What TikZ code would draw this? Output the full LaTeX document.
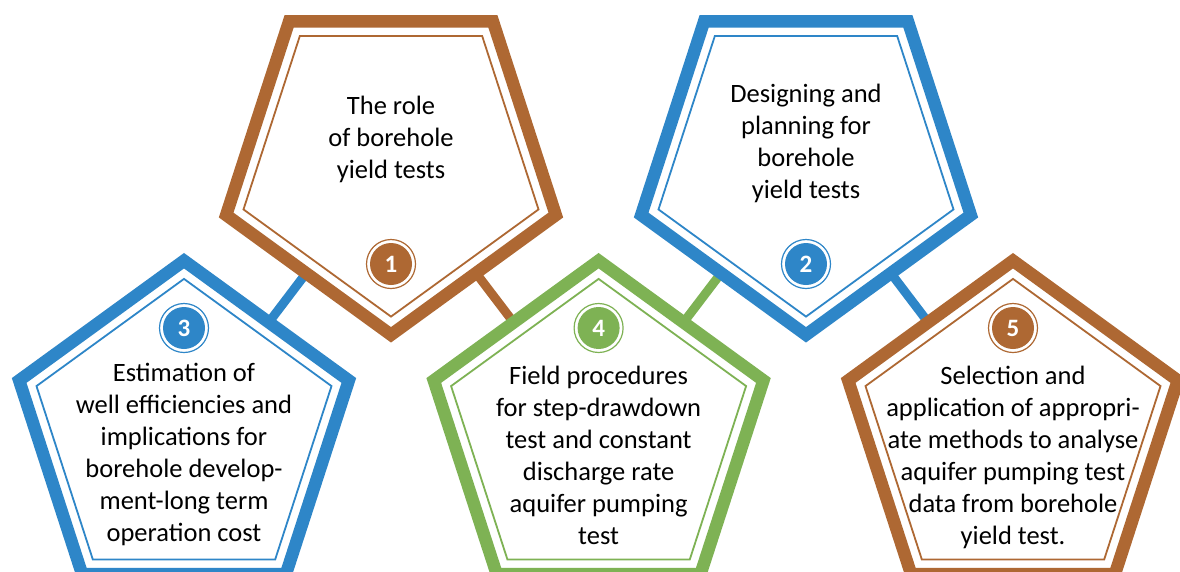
\documentclass[tikz,border=0pt]{standalone}
\usepackage{fontspec}
\setmainfont{Carlito}
\definecolor{brn}{HTML}{AE6833}
\definecolor{blu}{HTML}{2E86C8}
\definecolor{grn}{HTML}{7EB254}
\newcommand\mypent[3]{%
  \begin{scope}[shift={(#1)}]
    \filldraw[fill=white, draw=#3, line width=12.5] (#2:173.3) -- (#2+72:173.3) -- (#2+144:173.3) -- (#2+216:173.3) -- (#2+288:173.3) -- cycle;
    \draw[draw=#3, line width=1.8] (#2:155.1) -- (#2+72:155.1) -- (#2+144:155.1) -- (#2+216:155.1) -- (#2+288:155.1) -- cycle;
  \end{scope}}
\tikzset{
  bar/.style={line width=9},
  label/.style={align=center, font=\fontsize{26.5}{32}\selectfont, text=black, inner sep=0},
  badge/.style={circle, fill=#1, minimum size=42, inner sep=0, text=white, font=\fontsize{25}{28}\selectfont\bfseries},
  ring/.style={draw=#1, line width=1.2}
}
\begin{document}
\begin{tikzpicture}[x=1pt,y=-1pt]
\useasboundingbox (0,0) rectangle (1180,571);
\coordinate (c1) at (391,161.5);
\coordinate (c2) at (806,161.5);
\coordinate (c3) at (184,434);
\coordinate (c4) at (598.6,434);
\coordinate (c5) at (1013,434);
% connectors
\draw[bar, blu] (c3) -- (c1);
\draw[bar, brn] (c1) -- (c4);
\draw[bar, grn] (c4) -- (c2);
\draw[bar, blu] (c2) -- (c5);
% pentagons
\mypent{c1}{90}{brn}
\mypent{c2}{90}{blu}
\mypent{c3}{270}{blu}
\mypent{c4}{270}{grn}
\mypent{c5}{270}{brn}
% texts
\node[label] (t1) at (391,139) {The role\\of borehole\\yield tests};
\node[label] (t2) at (806,143) {Designing and\\planning for\\borehole\\yield tests};
\node[label] (t3) at (184,454) {Estimation of\\well efficiencies and\\implications for\\borehole develop-\\ment-long term\\operation cost};
\node[label] (t4) at (598.6,455) {Field procedures\\for step-drawdown\\test and constant\\discharge rate\\aquifer pumping\\test};
\node[label] (t5) at (1013,457) {Selection and\\application of appropri-\\ate methods to analyse\\aquifer pumping test\\data from borehole\\yield test.};
% badges
\node[badge=brn] (b1) at (391,264) {1};
\draw[ring=brn] (b1.center) circle (24.5);
\node[badge=blu] (b2) at (806,264) {2};
\draw[ring=blu] (b2.center) circle (24.5);
\node[badge=blu] (b3) at (184,328) {3};
\draw[ring=blu] (b3.center) circle (24.5);
\node[badge=grn] (b4) at (598.6,328) {4};
\draw[ring=grn] (b4.center) circle (24.5);
\node[badge=brn] (b5) at (1013,328) {5};
\draw[ring=brn] (b5.center) circle (24.5);
\end{tikzpicture}
\end{document}
